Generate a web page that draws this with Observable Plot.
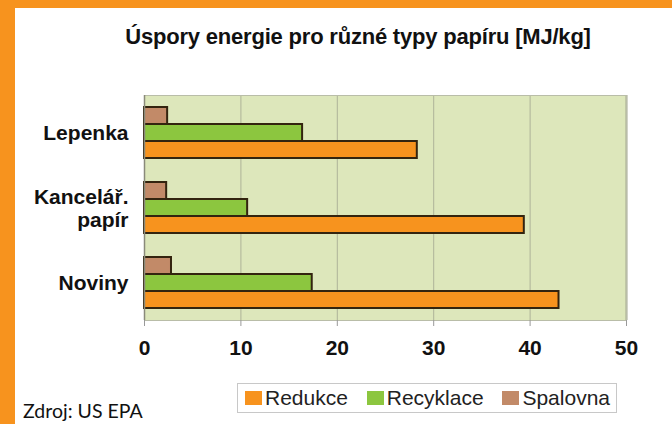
<!DOCTYPE html>
<html>
<head>
<meta charset="utf-8">
<script src="https://cdn.jsdelivr.net/npm/d3@7"></script>
<script src="https://cdn.jsdelivr.net/npm/@observablehq/plot@0.6"></script>
<style>
  html, body { margin: 0; padding: 0; background: #fff; }
  #wrap { position: relative; width: 672px; height: 424px; overflow: hidden; background: #fff; font-family: Arial, "Liberation Sans", sans-serif; }
  #chart { position: absolute; left: 0; top: 0; }
  .bl { position: absolute; left: 0; top: 0; width: 15px; height: 424px; background: #f7931e; }
  .bt { position: absolute; left: 0; top: 0; width: 672px; height: 8px; background: #f7931e; }
  #title { position: absolute; left: 15px; width: 686px; top: 24px; text-align: center; font-weight: bold; font-size: 22px; color: #111; letter-spacing: -0.2px; }
  #legend { position: absolute; left: 237px; top: 383px; width: 380px; height: 30px; border: 1px solid #c8c8c8; box-sizing: border-box; display: flex; align-items: center; justify-content: space-between; padding: 0 6px 0 7px; font-size: 21px; color: #222; }
  #legend span.item { display: flex; align-items: center; }
  #legend span.sw { display: inline-block; width: 17px; height: 14px; margin-right: 3px; }
  #source { position: absolute; left: 23px; top: 399px; font-family: Lato, "Open Sans", sans-serif; font-size: 19.5px; color: #111; }
</style>
</head>
<body>
<div id="wrap">
  <div id="chart"></div>
  <div class="bl"></div>
  <div class="bt"></div>
  <div id="title"></div>
  <div id="legend"></div>
  <div id="source"></div>
</div>
<script>
const title = "Úspory energie pro různé typy papíru [MJ/kg]";
const source = "Zdroj: US EPA";
const categories = ["Lepenka", "Kancelář.\npapír", "Noviny"];
const seriesOrder = ["Spalovna", "Recyklace", "Redukce"];   // top to bottom within a group
const legendOrder = ["Redukce", "Recyklace", "Spalovna"];
const legendColors = ["#f7931e", "#8cc63f", "#c28a68"];
const redukce = [28.3, 39.4, 43.0];
const recyklace = [16.4, 10.7, 17.4];
const spalovna = [2.4, 2.3, 2.8];
const xTicks = [0, 10, 20, 30, 40, 50];
const gridTicks = [10, 20, 30, 40];

const data = [];
categories.forEach((c, i) => {
  data.push({cat: c, series: "Spalovna", value: spalovna[i]});
  data.push({cat: c, series: "Recyklace", value: recyklace[i]});
  data.push({cat: c, series: "Redukce", value: redukce[i]});
});

document.getElementById("title").textContent = title;
document.getElementById("source").textContent = source;
const leg = document.getElementById("legend");
legendOrder.forEach((s, i) => {
  const it = document.createElement("span");
  it.className = "item";
  const sw = document.createElement("span");
  sw.className = "sw";
  sw.style.background = legendColors[i];
  it.appendChild(sw);
  it.appendChild(document.createTextNode(s));
  leg.appendChild(it);
});

const chart = Plot.plot({
  width: 672,
  height: 424,
  marginLeft: 144,
  marginRight: 46,
  marginTop: 95,
  marginBottom: 104,
  style: {background: "transparent", fontFamily: "Arial, 'Liberation Sans', sans-serif"},
  x: {domain: [0, 50], axis: null},
  y: {domain: seriesOrder, paddingInner: 0, paddingOuter: 0.7, axis: null},
  fy: {domain: categories, padding: 0, axis: null},
  color: {domain: legendOrder, range: legendColors},
  marks: [
    Plot.frame({facet: "super", fill: "#dde7bb", stroke: null}),
    Plot.ruleX(gridTicks, {stroke: "#aeb399", strokeWidth: 1}),
    Plot.ruleX([50], {stroke: "#a3a78f", strokeWidth: 2}),
    Plot.frame({facet: "super", stroke: "#b9bda8", fill: null, strokeWidth: 1}),
    Plot.barX(data, {x: "value", y: "series", fy: "cat", fill: "series", stroke: "#33240f", strokeWidth: 2}),
    Plot.ruleX([0], {stroke: "#8a8a7a", strokeWidth: 1.5}),
    Plot.axisX({ticks: xTicks, tickSize: 6, tickPadding: 14, fontSize: 21, fontWeight: "bold", stroke: "#999", color: "#111", label: null}),
    Plot.axisFy({anchor: "left", tickSize: 0, tickPadding: 16, fontSize: 21, fontWeight: "bold", lineHeight: 1.1, label: null, color: "#111"})
  ]
});
document.getElementById("chart").appendChild(chart);
</script>
</body>
</html>
